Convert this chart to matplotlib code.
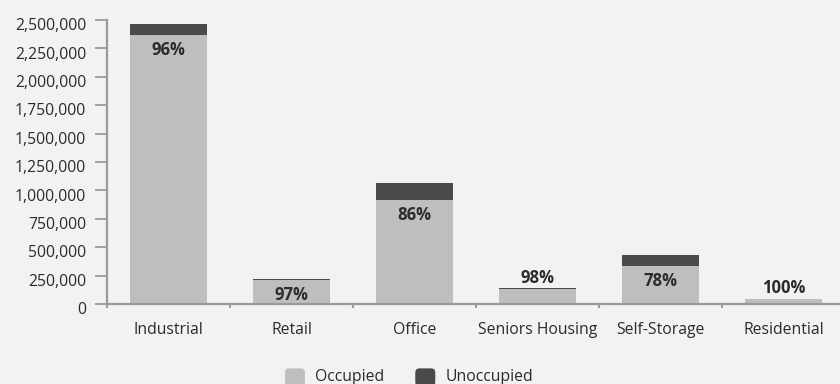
import matplotlib
matplotlib.use("Agg")
from matplotlib import pyplot as plt
import matplotlib.transforms as mtransforms
from matplotlib.patches import FancyBboxPatch, Patch
from matplotlib.legend_handler import HandlerPatch
from matplotlib.ticker import FuncFormatter, FixedLocator

# Dados
categories = ["Industrial", "Retail", "Office", "Seniors Housing", "Self-Storage", "Residential"]
total_sf = [2465000, 222000, 1068000, 138000, 431000, 47000]
occupancy = [96, 97, 86, 98, 78, 100]

occupied = [t * p / 100 for t, p in zip(total_sf, occupancy)]
unoccupied = [t - o for t, o in zip(total_sf, occupied)]

bg = "#f1f2f4"
c_occ = "#bebebe"
c_unocc = "#4a4a4a"
c_axis = "#9a9a9a"
c_text = "#2b2b2b"

plt.rcParams["font.family"] = ["Open Sans", "DejaVu Sans"]

fig = plt.figure(figsize=(8.4, 3.84), dpi=100)
fig.patch.set_facecolor(bg)
ax = fig.add_axes([0.1274, 0.2083, 0.8786, 0.7396])
ax.set_facecolor(bg)

x = list(range(len(categories)))
ax.bar(x, occupied, width=0.63, color=c_occ, label="Occupied", zorder=2)
ax.bar(x, unoccupied, width=0.63, bottom=occupied, color=c_unocc, label="Unoccupied", zorder=2)

# Rótulos de ocupação: dentro da barra se ela for alta, acima se for baixa
for xi, occ, tot, pct in zip(x, occupied, total_sf, occupancy):
    if tot > 200000:
        ax.annotate("{}%".format(pct), (xi, occ), xytext=(0, -11), textcoords="offset points",
                    ha="center", va="center", fontsize=12, fontweight="bold", color=c_text)
    else:
        ax.annotate("{}%".format(pct), (xi, tot), xytext=(0, 7.5), textcoords="offset points",
                    ha="center", va="center", fontsize=12, fontweight="bold", color=c_text)

ax.set_ylim(0, 2500000)
ax.set_xlim(-0.5, len(categories) - 0.5)
ax.set_yticks(range(0, 2500001, 250000))
ax.yaxis.set_major_formatter(FuncFormatter(lambda v, p: "{:,.0f}".format(v)))
ax.set_xticks(x)
ax.set_xticklabels(categories)
ax.xaxis.set_minor_locator(FixedLocator([i - 0.5 for i in range(len(categories) + 1)]))

for s in ["top", "right"]:
    ax.spines[s].set_visible(False)
for s in ["left", "bottom"]:
    ax.spines[s].set_color(c_axis)
    ax.spines[s].set_linewidth(1.6)

ax.tick_params(axis="y", length=9, width=1.3, color=c_axis, labelsize=11.3, labelcolor=c_text, pad=6)
ax.tick_params(axis="x", which="major", length=0, labelsize=11.3, labelcolor=c_text, pad=13)
ax.tick_params(axis="x", which="minor", length=3, width=1.5, color=c_axis)

# Desloca levemente os rótulos do eixo y para baixo, como na referência
offset = mtransforms.ScaledTranslation(0, -3 / 72, fig.dpi_scale_trans)
for lbl in ax.get_yticklabels():
    lbl.set_va("center_baseline")
    lbl.set_transform(lbl.get_transform() + offset)


class RoundHandler(HandlerPatch):
    def create_artists(self, legend, orig_handle, xdescent, ydescent, width, height, fontsize, trans):
        p = FancyBboxPatch((-xdescent + 1, -ydescent - 2), width - 2, height + 2,
                           boxstyle="round,pad=0,rounding_size=3",
                           facecolor=orig_handle.get_facecolor(), edgecolor="none", transform=trans)
        return [p]


handles = [Patch(facecolor=c_occ), Patch(facecolor=c_unocc)]
leg = fig.legend(handles, ["Occupied", "Unoccupied"], loc="lower center", ncol=2,
                 bbox_to_anchor=(0.486, -0.04), frameon=False, fontsize=11.3,
                 handlelength=1.45, handleheight=1.1, columnspacing=1.9, handletextpad=0.55,
                 handler_map={Patch: RoundHandler()})
for t in leg.get_texts():
    t.set_color(c_text)

plt.savefig("out.png", dpi=100, facecolor=bg)
